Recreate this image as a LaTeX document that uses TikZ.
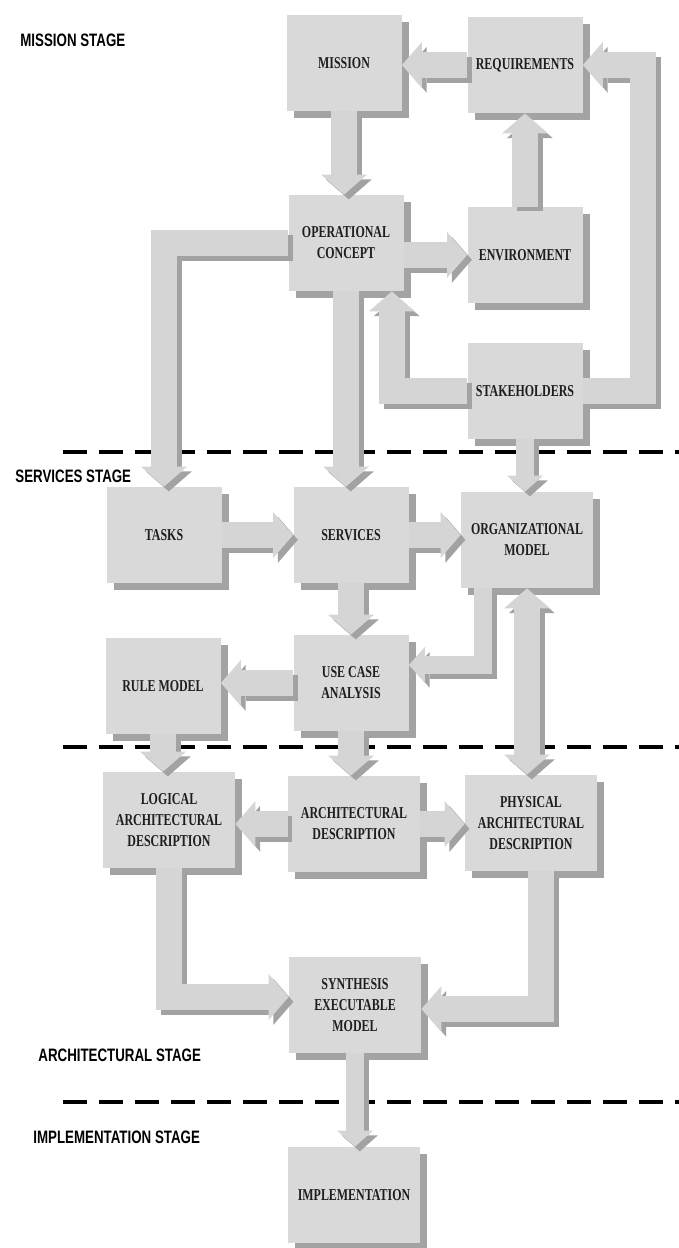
\documentclass[tikz,border=0pt]{standalone}
\usepackage{fontspec}
\usepackage{tikz}
\usetikzlibrary{calc, arrows.meta, shadows}
\newfontface\boxfont[FakeStretch=0.72]{Liberation Serif Bold}
\newfontface\stagefont[FakeStretch=0.74]{Liberation Sans Bold}
\definecolor{boxgray}{HTML}{D9D9D9}
\definecolor{boxshade}{HTML}{A3A3A3}
\definecolor{arrowgray}{HTML}{D5D5D5}
\definecolor{arrowshade}{HTML}{A2A2A2}
\definecolor{textdark}{HTML}{1E1E1E}
\tikzset{
  stagebox/.style={rectangle, fill=boxgray, minimum width=57.5pt, minimum height=48pt,
    align=center, text=textdark, font=\boxfont\fontsize{8.3}{10.5}\selectfont,
    drop shadow={shadow xshift=3.5pt, shadow yshift=-3.5pt, fill=boxshade, opacity=1}},
  widebox/.style={stagebox, minimum width=66pt},
  blockarrow/.style={line width=13pt, draw=arrowgray,
    >={Triangle[width=23pt,length=10pt,line width=0pt]}, ->},
  narrowarrow/.style={blockarrow, line width=9pt,
    >={Triangle[width=18pt,length=8pt,line width=0pt]}, ->},
  arrowshadow/.style={draw=arrowshade, transform canvas={shift={(2.4pt,-2.4pt)}}},
  stageline/.style={line width=2pt, dash pattern=on 12pt off 6pt},
  stagelabel/.style={anchor=west, inner sep=0pt, font=\stagefont\fontsize{9}{11}\selectfont}
}
\newcommand{\shadedarrow}[2][blockarrow]{%
  \draw[#1, arrowshadow] #2;
  \draw[#1] #2;}
\begin{document}
\begin{tikzpicture}[x=0.5pt, y=-0.5pt]
      \useasboundingbox (0,0) rectangle (679,1248);

      \draw[stageline] (63,452) -- (679,452);
      \draw[stageline] (63,747) -- (679,747);
      \draw[stageline] (63,1102) -- (679,1102);

      \node[stagelabel] (mstage) at (20,40) {MISSION STAGE};
      \node[stagelabel] (sstage) at (15,476) {SERVICES STAGE};
      \node[stagelabel] (astage) at (38,1055) {ARCHITECTURAL STAGE};
      \node[stagelabel] (istage) at (33,1137) {IMPLEMENTATION STAGE};

      \node[stagebox] (mission) at (344,63) {MISSION};
      \node[stagebox] (req) at (525,65) {REQUIREMENTS};
      \node[stagebox] (opcon) at (346,243) {OPERATIONAL\\CONCEPT};
      \node[stagebox] (env) at (525,255) {ENVIRONMENT};
      \node[stagebox] (stake) at (525,391) {STAKEHOLDERS};
      \node[stagebox] (tasks) at (164,535) {TASKS};
      \node[stagebox] (serv) at (351,535) {SERVICES};
      \node[widebox] (org) at (527,540) {ORGANIZATIONAL\\MODEL};
      \node[stagebox] (rule) at (163,686) {RULE MODEL};
      \node[stagebox] (usecase) at (351,683) {USE CASE\\ANALYSIS};
      \node[widebox] (logical) at (169,820) {LOGICAL\\ARCHITECTURAL\\DESCRIPTION};
      \node[widebox] (arch) at (354,824) {ARCHITECTURAL\\DESCRIPTION};
      \node[widebox] (phys) at (531,823) {PHYSICAL\\ARCHITECTURAL\\DESCRIPTION};
      \node[widebox] (synth) at (355,1005) {SYNTHESIS\\EXECUTABLE\\MODEL};
      \node[widebox] (impl) at (354,1195) {IMPLEMENTATION};

      \shadedarrow{(req.west) -- (req.west -| mission.east)}
      \shadedarrow{(env.north) -- (env.north |- req.south)}
      \shadedarrow{(mission.south) -- (mission.south |- opcon.north)}
      \shadedarrow{(opcon.east |- env.west) -- (env.west)}
      \shadedarrow{(opcon.west) -| (tasks.north)}
      \shadedarrow{(opcon.south) -- (opcon.south |- serv.north)}
      \shadedarrow{(stake.west) -| ([xshift=-6pt]opcon.south east)}
      \shadedarrow{(stake.east) -| ($(req.east)+(60,0)$) -- (req.east)}
      \shadedarrow[narrowarrow]{(stake.south) -- (stake.south |- org.north)}
      \shadedarrow{(tasks.east) -- (tasks.east -| serv.west)}
      \shadedarrow{(serv.east) -- (serv.east -| org.west)}
      \shadedarrow{(serv.south) -- (serv.south |- usecase.north)}
      \shadedarrow[narrowarrow]{([xshift=-22pt]org.south) |- ([yshift=9pt]usecase.east)}
      \shadedarrow[blockarrow, <->]{(org.south) -- (org.south |- phys.north)}
      \shadedarrow{(usecase.west) -- (usecase.west -| rule.east)}
      \shadedarrow{(rule.south) -- (rule.south |- logical.north)}
      \shadedarrow{(usecase.south) -- (usecase.south |- arch.north)}
      \shadedarrow{(arch.west) -- (arch.west -| logical.east)}
      \shadedarrow{(arch.east) -- (arch.east -| phys.west)}
      \shadedarrow{(logical.south) |- ([yshift=4pt]synth.west)}
      \shadedarrow{([xshift=5pt]phys.south) |- ([yshift=-2pt]synth.east)}
      \shadedarrow[narrowarrow]{(synth.south) -- (synth.south |- impl.north)}
\end{tikzpicture}
\end{document}
